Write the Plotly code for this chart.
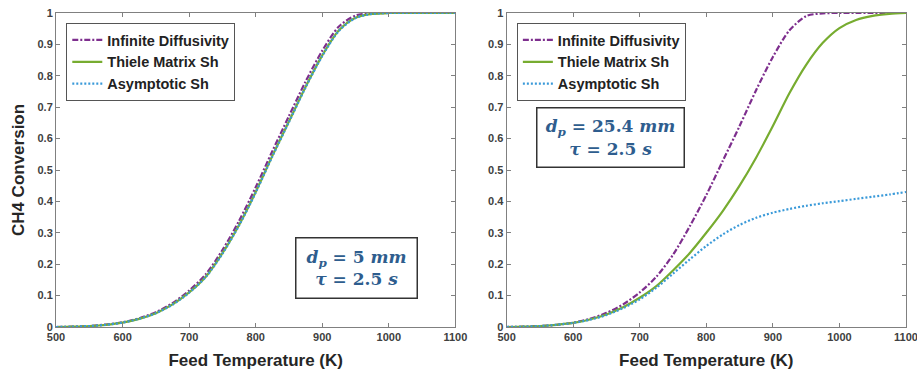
import plotly.graph_objects as go

# ---- data ----
temps = [500, 525, 550, 575, 600, 625, 650, 675, 700, 725, 750, 775, 800, 825, 850,
         875, 900, 925, 950, 975, 1000, 1025, 1050, 1075, 1100]

# Left panel (d_p = 5 mm)
left_inf = [0, 0.001, 0.003, 0.008, 0.015, 0.028, 0.047, 0.076, 0.116, 0.168, 0.245, 0.338, 0.445,
            0.56, 0.672, 0.782, 0.88, 0.957, 0.992, 0.999, 1.0, 1.0, 1.0, 1.0, 1.0]
left_thiele = [0, 0.001, 0.003, 0.007, 0.014, 0.026, 0.044, 0.072, 0.11, 0.16, 0.235, 0.325, 0.43,
               0.545, 0.655, 0.765, 0.865, 0.945, 0.985, 0.997, 1.0, 1.0, 1.0, 1.0, 1.0]
left_asym = [0, 0.001, 0.003, 0.007, 0.014, 0.026, 0.044, 0.071, 0.109, 0.159, 0.233, 0.323, 0.428,
             0.543, 0.653, 0.763, 0.863, 0.943, 0.984, 0.997, 1.0, 1.0, 1.0, 1.0, 1.0]

# Right panel (d_p = 25.4 mm)
right_inf = [0, 0.001, 0.003, 0.007, 0.014, 0.026, 0.045, 0.072, 0.11, 0.16, 0.23, 0.32, 0.42,
             0.53, 0.64, 0.755, 0.86, 0.945, 0.99, 0.999, 1.0, 1.0, 1.0, 1.0, 1.0]
right_thiele = [0, 0.001, 0.003, 0.007, 0.013, 0.024, 0.04, 0.063, 0.093, 0.13, 0.18, 0.235, 0.30,
                0.37, 0.45, 0.54, 0.64, 0.745, 0.835, 0.905, 0.952, 0.978, 0.991, 0.997, 1.0]
right_asym = [0, 0.001, 0.003, 0.007, 0.013, 0.023, 0.038, 0.06, 0.088, 0.125, 0.17, 0.215, 0.258,
              0.295, 0.325, 0.348, 0.364, 0.376, 0.386, 0.394, 0.401, 0.408, 0.415, 0.422, 0.43]

series_names = ["Infinite Diffusivity", "Thiele Matrix Sh", "Asymptotic Sh"]
colors = ["#7E2F8E", "#77AC30", "#3A9AD9"]
dashes = ["6px,2px,2px,2px", "solid", "2px,2px"]

x_ticks = [500, 600, 700, 800, 900, 1000, 1100]
y_ticks = [0, 0.1, 0.2, 0.3, 0.4, 0.5, 0.6, 0.7, 0.8, 0.9, 1]
y_tick_text = ["0", "0.1", "0.2", "0.3", "0.4", "0.5", "0.6", "0.7", "0.8", "0.9", "1"]

fig = go.Figure()

panels = [
    ("x", "y", "legend", [left_inf, left_thiele, left_asym]),
    ("x2", "y2", "legend2", [right_inf, right_thiele, right_asym]),
]
for xa, ya, lg, data in panels:
    for name, vals, c, d in zip(series_names, data, colors, dashes):
        fig.add_trace(go.Scatter(
            x=temps, y=vals, mode="lines", name=name,
            line=dict(color=c, width=2.2, dash=d, shape="spline", smoothing=0.8),
            xaxis=xa, yaxis=ya, legend=lg, showlegend=True,
        ))

W, H = 917.0, 372.0
ML, MR, MT, MB = 55.7, 10.5, 13.0, 45.0
PW = W - ML - MR
PH = H - MT - MB


def px_x(p):
    return (p - ML) / PW


def px_y(p):
    return 1 - (p - MT) / PH


axis_common = dict(
    showline=True, linecolor="#808080", linewidth=1, mirror="ticks",
    ticks="inside", ticklen=4, tickcolor="#808080", showgrid=False, zeroline=False,
    automargin=False, ticklabeloverflow="allow",
    tickfont=dict(family="Liberation Sans", size=11, color="#404040", weight="bold"),
)
title_font = dict(family="Liberation Sans", size=17, color="#262626", weight="bold")
legend_font = dict(family="Liberation Sans", size=14.5, color="#222222", weight="bold")

fig.update_layout(
    width=917, height=372,
    margin=dict(l=ML, r=MR, t=MT, b=MB, autoexpand=False),
    paper_bgcolor="white", plot_bgcolor="white",
    xaxis=dict(domain=[0, px_x(455.5)], range=[500, 1100], tickvals=x_ticks, anchor="y",
               title=dict(text="Feed Temperature (K)", standoff=11, font=title_font),
               **axis_common),
    yaxis=dict(domain=[0, 1], range=[0, 1], tickvals=y_ticks, ticktext=y_tick_text, anchor="x",
               title=dict(text="CH4 Conversion", standoff=8, font=title_font),
               **axis_common),
    xaxis2=dict(domain=[px_x(506.7), 1], range=[500, 1100], tickvals=x_ticks, anchor="y2",
                title=dict(text="Feed Temperature (K)", standoff=11, font=title_font),
                **axis_common),
    yaxis2=dict(domain=[0, 1], range=[0, 1], tickvals=y_ticks, ticktext=y_tick_text, anchor="x2",
                **axis_common),
    legend=dict(x=px_x(66), y=px_y(23), xanchor="left", yanchor="top",
                bgcolor="white", bordercolor="#555555", borderwidth=1,
                font=legend_font, tracegroupgap=0, itemwidth=30),
    legend2=dict(x=px_x(517), y=px_y(23), xanchor="left", yanchor="top",
                 bgcolor="white", bordercolor="#555555", borderwidth=1,
                 font=legend_font, tracegroupgap=0, itemwidth=30),
    showlegend=True,
)

box_font = dict(family="DejaVu Serif", size=17, color="#2E5D8E", weight="bold")
fig.add_annotation(
    xref="paper", yref="paper", x=px_x(356.5), y=px_y(268), xanchor="center", yanchor="middle",
    text="<i>d</i><sub><i>p</i></sub> = 5 <i>mm</i><br><i>τ</i> = 2.5 <i>s</i>",
    showarrow=False, font=box_font, align="center",
    bordercolor="#333333", borderwidth=1.5, borderpad=3, bgcolor="white",
    width=114, height=53,
)
fig.add_annotation(
    xref="paper", yref="paper", x=px_x(610.5), y=px_y(137.5), xanchor="center", yanchor="middle",
    text="<i>d</i><sub><i>p</i></sub> = 25.4 <i>mm</i><br><i>τ</i> = 2.5 <i>s</i>",
    showarrow=False, font=box_font, align="center",
    bordercolor="#333333", borderwidth=1.5, borderpad=3, bgcolor="white",
    width=140, height=52,
)

fig.write_html("out.html", config={"displayModeBar": False},
               post_script="document.body.style.margin='0';")
